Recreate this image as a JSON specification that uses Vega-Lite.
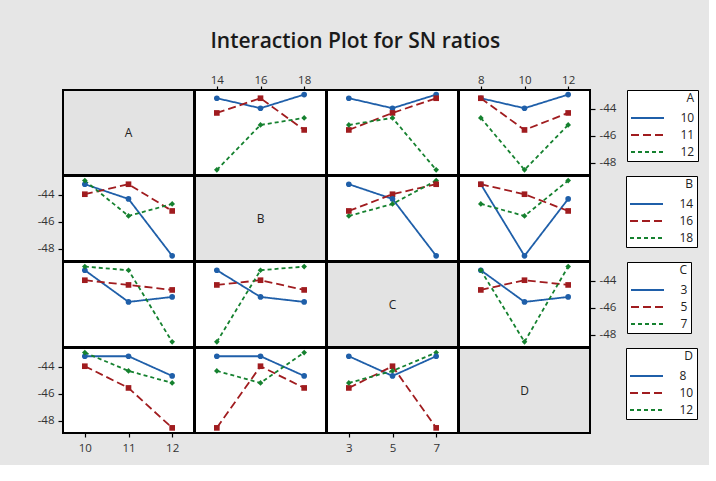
{
  "$schema": "https://vega.github.io/schema/vega-lite/v6.json",
  "background": "#e6e6e6",
  "padding": {"left": 36, "top": 31, "right": 10, "bottom": 10},
  "title": {
    "text": "Interaction Plot for SN ratios",
    "font": "Open Sans",
    "fontSize": 21,
    "fontWeight": 600,
    "color": "#1a1a1a",
    "anchor": "middle",
    "dx": -12,
    "offset": 21
  },
  "datasets": {
    "runs": [
      {"A": 10, "B": 14, "C": 3, "D": 8, "SN": -43.21},
      {"A": 10, "B": 16, "C": 5, "D": 10, "SN": -43.95},
      {"A": 10, "B": 18, "C": 7, "D": 12, "SN": -42.94},
      {"A": 11, "B": 14, "C": 5, "D": 12, "SN": -44.3},
      {"A": 11, "B": 16, "C": 7, "D": 8, "SN": -43.21},
      {"A": 11, "B": 18, "C": 3, "D": 10, "SN": -45.56},
      {"A": 12, "B": 14, "C": 7, "D": 10, "SN": -48.52},
      {"A": 12, "B": 16, "C": 3, "D": 12, "SN": -45.19},
      {"A": 12, "B": 18, "C": 5, "D": 8, "SN": -44.67}
    ]
  },
  "spacing": -2,
  "resolve": {
    "scale": {"x": "independent", "y": "independent", "color": "independent", "fill": "independent", "shape": "independent", "strokeDash": "independent"}
  },
  "vconcat": [
    {
      "spacing": -2,
      "resolve": {"scale": {"x": "independent", "y": "independent", "color": "shared", "fill": "shared", "shape": "shared", "strokeDash": "shared"}},
      "hconcat": [
        {
          "width": 131, "height": 85,
          "data": {"values": [{"t": "A"}]},
          "layer": [
            {"mark": {"type": "rect", "fill": "#e3e3e3", "stroke": "black", "strokeWidth": 2}, "encoding": {}},
            {"mark": {"type": "text", "font": "Open Sans", "fontSize": 12, "color": "#222"}, "encoding": {"text": {"field": "t"}}}
          ]
        },
        {
          "width": 131, "height": 85,
          "data": {"name": "runs"},
          "encoding": {
            "x": {"field": "B", "type": "quantitative", "scale": {"domain": [13, 19], "nice": false, "zero": false}, "axis": {"orient": "top", "values": [14, 16, 18], "title": null}},
            "y": {"field": "SN", "type": "quantitative", "scale": {"domain": [-48.9, -42.6], "nice": false, "zero": false}, "axis": null}
          },
          "layer": [
            {"mark": {"type": "line", "strokeWidth": 1.8}, "encoding": {
              "color": {"field": "A", "type": "nominal", "scale": {"domain": [10, 11, 12], "range": ["#1f5fa9", "#a01c1f", "#15812f"]}, "legend": {"title": "A", "offset": 10, "symbolType": "M-3.3,0L3.3,0"}},
              "strokeDash": {"field": "A", "type": "nominal", "scale": {"domain": [10, 11, 12], "range": [[1, 0], [8, 4], [4, 3]]}, "legend": {"title": "A", "offset": 10, "symbolType": "M-3.3,0L3.3,0"}}}},
            {"mark": {"type": "point", "filled": true, "size": 32, "opacity": 1}, "encoding": {
              "fill": {"field": "A", "type": "nominal", "scale": {"domain": [12, 11, 10], "range": ["#15812f", "#a01c1f", "#1f5fa9"]}, "legend": null},
              "shape": {"field": "A", "type": "nominal", "scale": {"domain": [12, 11, 10], "range": ["diamond", "square", "circle"]}, "legend": null}}}
          ]
        },
        {
          "width": 131, "height": 85,
          "data": {"name": "runs"},
          "encoding": {
            "x": {"field": "C", "type": "quantitative", "scale": {"domain": [2, 8], "nice": false, "zero": false}, "axis": null},
            "y": {"field": "SN", "type": "quantitative", "scale": {"domain": [-48.9, -42.6], "nice": false, "zero": false}, "axis": null}
          },
          "layer": [
            {"mark": {"type": "line", "strokeWidth": 1.8}, "encoding": {
              "color": {"field": "A", "type": "nominal", "scale": {"domain": [10, 11, 12], "range": ["#1f5fa9", "#a01c1f", "#15812f"]}, "legend": {"title": "A", "offset": 10, "symbolType": "M-3.3,0L3.3,0"}},
              "strokeDash": {"field": "A", "type": "nominal", "scale": {"domain": [10, 11, 12], "range": [[1, 0], [8, 4], [4, 3]]}, "legend": {"title": "A", "offset": 10, "symbolType": "M-3.3,0L3.3,0"}}}},
            {"mark": {"type": "point", "filled": true, "size": 32, "opacity": 1}, "encoding": {
              "fill": {"field": "A", "type": "nominal", "scale": {"domain": [12, 11, 10], "range": ["#15812f", "#a01c1f", "#1f5fa9"]}, "legend": null},
              "shape": {"field": "A", "type": "nominal", "scale": {"domain": [12, 11, 10], "range": ["diamond", "square", "circle"]}, "legend": null}}}
          ]
        },
        {
          "width": 131, "height": 85,
          "data": {"name": "runs"},
          "encoding": {
            "x": {"field": "D", "type": "quantitative", "scale": {"domain": [7, 13], "nice": false, "zero": false}, "axis": {"orient": "top", "values": [8, 10, 12], "title": null}},
            "y": {"field": "SN", "type": "quantitative", "scale": {"domain": [-48.9, -42.6], "nice": false, "zero": false}, "axis": {"orient": "right", "values": [-44, -46, -48], "title": null, "labelExpr": "'-' + abs(datum.value)"}}
          },
          "layer": [
            {"mark": {"type": "line", "strokeWidth": 1.8}, "encoding": {
              "color": {"field": "A", "type": "nominal", "scale": {"domain": [10, 11, 12], "range": ["#1f5fa9", "#a01c1f", "#15812f"]}, "legend": {"title": "A", "offset": 10, "symbolType": "M-3.3,0L3.3,0"}},
              "strokeDash": {"field": "A", "type": "nominal", "scale": {"domain": [10, 11, 12], "range": [[1, 0], [8, 4], [4, 3]]}, "legend": {"title": "A", "offset": 10, "symbolType": "M-3.3,0L3.3,0"}}}},
            {"mark": {"type": "point", "filled": true, "size": 32, "opacity": 1}, "encoding": {
              "fill": {"field": "A", "type": "nominal", "scale": {"domain": [12, 11, 10], "range": ["#15812f", "#a01c1f", "#1f5fa9"]}, "legend": null},
              "shape": {"field": "A", "type": "nominal", "scale": {"domain": [12, 11, 10], "range": ["diamond", "square", "circle"]}, "legend": null}}}
          ]
        }
      ]
    },
    {
      "spacing": -2,
      "resolve": {"scale": {"x": "independent", "y": "independent", "color": "shared", "fill": "shared", "shape": "shared", "strokeDash": "shared"}},
      "hconcat": [
        {
          "width": 131, "height": 85,
          "data": {"name": "runs"},
          "encoding": {
            "x": {"field": "A", "type": "quantitative", "scale": {"domain": [9.5, 12.5], "nice": false, "zero": false}, "axis": null},
            "y": {"field": "SN", "type": "quantitative", "scale": {"domain": [-48.9, -42.6], "nice": false, "zero": false}, "axis": {"orient": "left", "values": [-44, -46, -48], "title": null, "labelExpr": "'-' + abs(datum.value)"}}
          },
          "layer": [
            {"mark": {"type": "line", "strokeWidth": 1.8}, "encoding": {
              "color": {"field": "B", "type": "nominal", "scale": {"domain": [14, 16, 18], "range": ["#1f5fa9", "#a01c1f", "#15812f"]}, "legend": {"title": "B", "offset": 35, "symbolType": "M-3.3,0L3.3,0"}},
              "strokeDash": {"field": "B", "type": "nominal", "scale": {"domain": [14, 16, 18], "range": [[1, 0], [8, 4], [4, 3]]}, "legend": {"title": "B", "offset": 35, "symbolType": "M-3.3,0L3.3,0"}}}},
            {"mark": {"type": "point", "filled": true, "size": 32, "opacity": 1}, "encoding": {
              "fill": {"field": "B", "type": "nominal", "scale": {"domain": [18, 16, 14], "range": ["#15812f", "#a01c1f", "#1f5fa9"]}, "legend": null},
              "shape": {"field": "B", "type": "nominal", "scale": {"domain": [18, 16, 14], "range": ["diamond", "square", "circle"]}, "legend": null}}}
          ]
        },
        {
          "width": 131, "height": 85,
          "data": {"values": [{"t": "B"}]},
          "layer": [
            {"mark": {"type": "rect", "fill": "#e3e3e3", "stroke": "black", "strokeWidth": 2}, "encoding": {}},
            {"mark": {"type": "text", "font": "Open Sans", "fontSize": 12, "color": "#222"}, "encoding": {"text": {"field": "t"}}}
          ]
        },
        {
          "width": 131, "height": 85,
          "data": {"name": "runs"},
          "encoding": {
            "x": {"field": "C", "type": "quantitative", "scale": {"domain": [2, 8], "nice": false, "zero": false}, "axis": null},
            "y": {"field": "SN", "type": "quantitative", "scale": {"domain": [-48.9, -42.6], "nice": false, "zero": false}, "axis": null}
          },
          "layer": [
            {"mark": {"type": "line", "strokeWidth": 1.8}, "encoding": {
              "color": {"field": "B", "type": "nominal", "scale": {"domain": [14, 16, 18], "range": ["#1f5fa9", "#a01c1f", "#15812f"]}, "legend": {"title": "B", "offset": 35, "symbolType": "M-3.3,0L3.3,0"}},
              "strokeDash": {"field": "B", "type": "nominal", "scale": {"domain": [14, 16, 18], "range": [[1, 0], [8, 4], [4, 3]]}, "legend": {"title": "B", "offset": 35, "symbolType": "M-3.3,0L3.3,0"}}}},
            {"mark": {"type": "point", "filled": true, "size": 32, "opacity": 1}, "encoding": {
              "fill": {"field": "B", "type": "nominal", "scale": {"domain": [18, 16, 14], "range": ["#15812f", "#a01c1f", "#1f5fa9"]}, "legend": null},
              "shape": {"field": "B", "type": "nominal", "scale": {"domain": [18, 16, 14], "range": ["diamond", "square", "circle"]}, "legend": null}}}
          ]
        },
        {
          "width": 131, "height": 85,
          "data": {"name": "runs"},
          "encoding": {
            "x": {"field": "D", "type": "quantitative", "scale": {"domain": [7, 13], "nice": false, "zero": false}, "axis": null},
            "y": {"field": "SN", "type": "quantitative", "scale": {"domain": [-48.9, -42.6], "nice": false, "zero": false}, "axis": null}
          },
          "layer": [
            {"mark": {"type": "line", "strokeWidth": 1.8}, "encoding": {
              "color": {"field": "B", "type": "nominal", "scale": {"domain": [14, 16, 18], "range": ["#1f5fa9", "#a01c1f", "#15812f"]}, "legend": {"title": "B", "offset": 35, "symbolType": "M-3.3,0L3.3,0"}},
              "strokeDash": {"field": "B", "type": "nominal", "scale": {"domain": [14, 16, 18], "range": [[1, 0], [8, 4], [4, 3]]}, "legend": {"title": "B", "offset": 35, "symbolType": "M-3.3,0L3.3,0"}}}},
            {"mark": {"type": "point", "filled": true, "size": 32, "opacity": 1}, "encoding": {
              "fill": {"field": "B", "type": "nominal", "scale": {"domain": [18, 16, 14], "range": ["#15812f", "#a01c1f", "#1f5fa9"]}, "legend": null},
              "shape": {"field": "B", "type": "nominal", "scale": {"domain": [18, 16, 14], "range": ["diamond", "square", "circle"]}, "legend": null}}}
          ]
        }
      ]
    },
    {
      "spacing": -2,
      "resolve": {"scale": {"x": "independent", "y": "independent", "color": "shared", "fill": "shared", "shape": "shared", "strokeDash": "shared"}},
      "hconcat": [
        {
          "width": 131, "height": 85,
          "data": {"name": "runs"},
          "encoding": {
            "x": {"field": "A", "type": "quantitative", "scale": {"domain": [9.5, 12.5], "nice": false, "zero": false}, "axis": null},
            "y": {"field": "SN", "type": "quantitative", "scale": {"domain": [-48.9, -42.6], "nice": false, "zero": false}, "axis": null}
          },
          "layer": [
            {"mark": {"type": "line", "strokeWidth": 1.8}, "encoding": {
              "color": {"field": "C", "type": "nominal", "scale": {"domain": [3, 5, 7], "range": ["#1f5fa9", "#a01c1f", "#15812f"]}, "legend": {"title": "C", "offset": 10, "symbolType": "M-3.3,0L3.3,0"}},
              "strokeDash": {"field": "C", "type": "nominal", "scale": {"domain": [3, 5, 7], "range": [[1, 0], [8, 4], [4, 3]]}, "legend": {"title": "C", "offset": 10, "symbolType": "M-3.3,0L3.3,0"}}}},
            {"mark": {"type": "point", "filled": true, "size": 32, "opacity": 1}, "encoding": {
              "fill": {"field": "C", "type": "nominal", "scale": {"domain": [7, 5, 3], "range": ["#15812f", "#a01c1f", "#1f5fa9"]}, "legend": null},
              "shape": {"field": "C", "type": "nominal", "scale": {"domain": [7, 5, 3], "range": ["diamond", "square", "circle"]}, "legend": null}}}
          ]
        },
        {
          "width": 131, "height": 85,
          "data": {"name": "runs"},
          "encoding": {
            "x": {"field": "B", "type": "quantitative", "scale": {"domain": [13, 19], "nice": false, "zero": false}, "axis": null},
            "y": {"field": "SN", "type": "quantitative", "scale": {"domain": [-48.9, -42.6], "nice": false, "zero": false}, "axis": null}
          },
          "layer": [
            {"mark": {"type": "line", "strokeWidth": 1.8}, "encoding": {
              "color": {"field": "C", "type": "nominal", "scale": {"domain": [3, 5, 7], "range": ["#1f5fa9", "#a01c1f", "#15812f"]}, "legend": {"title": "C", "offset": 10, "symbolType": "M-3.3,0L3.3,0"}},
              "strokeDash": {"field": "C", "type": "nominal", "scale": {"domain": [3, 5, 7], "range": [[1, 0], [8, 4], [4, 3]]}, "legend": {"title": "C", "offset": 10, "symbolType": "M-3.3,0L3.3,0"}}}},
            {"mark": {"type": "point", "filled": true, "size": 32, "opacity": 1}, "encoding": {
              "fill": {"field": "C", "type": "nominal", "scale": {"domain": [7, 5, 3], "range": ["#15812f", "#a01c1f", "#1f5fa9"]}, "legend": null},
              "shape": {"field": "C", "type": "nominal", "scale": {"domain": [7, 5, 3], "range": ["diamond", "square", "circle"]}, "legend": null}}}
          ]
        },
        {
          "width": 131, "height": 85,
          "data": {"values": [{"t": "C"}]},
          "layer": [
            {"mark": {"type": "rect", "fill": "#e3e3e3", "stroke": "black", "strokeWidth": 2}, "encoding": {}},
            {"mark": {"type": "text", "font": "Open Sans", "fontSize": 12, "color": "#222"}, "encoding": {"text": {"field": "t"}}}
          ]
        },
        {
          "width": 131, "height": 85,
          "data": {"name": "runs"},
          "encoding": {
            "x": {"field": "D", "type": "quantitative", "scale": {"domain": [7, 13], "nice": false, "zero": false}, "axis": null},
            "y": {"field": "SN", "type": "quantitative", "scale": {"domain": [-48.9, -42.6], "nice": false, "zero": false}, "axis": {"orient": "right", "values": [-44, -46, -48], "title": null, "labelExpr": "'-' + abs(datum.value)"}}
          },
          "layer": [
            {"mark": {"type": "line", "strokeWidth": 1.8}, "encoding": {
              "color": {"field": "C", "type": "nominal", "scale": {"domain": [3, 5, 7], "range": ["#1f5fa9", "#a01c1f", "#15812f"]}, "legend": {"title": "C", "offset": 10, "symbolType": "M-3.3,0L3.3,0"}},
              "strokeDash": {"field": "C", "type": "nominal", "scale": {"domain": [3, 5, 7], "range": [[1, 0], [8, 4], [4, 3]]}, "legend": {"title": "C", "offset": 10, "symbolType": "M-3.3,0L3.3,0"}}}},
            {"mark": {"type": "point", "filled": true, "size": 32, "opacity": 1}, "encoding": {
              "fill": {"field": "C", "type": "nominal", "scale": {"domain": [7, 5, 3], "range": ["#15812f", "#a01c1f", "#1f5fa9"]}, "legend": null},
              "shape": {"field": "C", "type": "nominal", "scale": {"domain": [7, 5, 3], "range": ["diamond", "square", "circle"]}, "legend": null}}}
          ]
        }
      ]
    },
    {
      "spacing": -2,
      "resolve": {"scale": {"x": "independent", "y": "independent", "color": "shared", "fill": "shared", "shape": "shared", "strokeDash": "shared"}},
      "hconcat": [
        {
          "width": 131, "height": 85,
          "data": {"name": "runs"},
          "encoding": {
            "x": {"field": "A", "type": "quantitative", "scale": {"domain": [9.5, 12.5], "nice": false, "zero": false}, "axis": {"orient": "bottom", "values": [10, 11, 12], "title": null, "labelPadding": 5}},
            "y": {"field": "SN", "type": "quantitative", "scale": {"domain": [-48.9, -42.6], "nice": false, "zero": false}, "axis": {"orient": "left", "values": [-44, -46, -48], "title": null, "labelExpr": "'-' + abs(datum.value)"}}
          },
          "layer": [
            {"mark": {"type": "line", "strokeWidth": 1.8}, "encoding": {
              "color": {"field": "D", "type": "nominal", "scale": {"domain": [8, 10, 12], "range": ["#1f5fa9", "#a01c1f", "#15812f"]}, "legend": {"title": "D", "offset": 35, "symbolType": "M-3.3,0L3.3,0"}},
              "strokeDash": {"field": "D", "type": "nominal", "scale": {"domain": [8, 10, 12], "range": [[1, 0], [8, 4], [4, 3]]}, "legend": {"title": "D", "offset": 35, "symbolType": "M-3.3,0L3.3,0"}}}},
            {"mark": {"type": "point", "filled": true, "size": 32, "opacity": 1}, "encoding": {
              "fill": {"field": "D", "type": "nominal", "scale": {"domain": [12, 10, 8], "range": ["#15812f", "#a01c1f", "#1f5fa9"]}, "legend": null},
              "shape": {"field": "D", "type": "nominal", "scale": {"domain": [12, 10, 8], "range": ["diamond", "square", "circle"]}, "legend": null}}}
          ]
        },
        {
          "width": 131, "height": 85,
          "data": {"name": "runs"},
          "encoding": {
            "x": {"field": "B", "type": "quantitative", "scale": {"domain": [13, 19], "nice": false, "zero": false}, "axis": null},
            "y": {"field": "SN", "type": "quantitative", "scale": {"domain": [-48.9, -42.6], "nice": false, "zero": false}, "axis": null}
          },
          "layer": [
            {"mark": {"type": "line", "strokeWidth": 1.8}, "encoding": {
              "color": {"field": "D", "type": "nominal", "scale": {"domain": [8, 10, 12], "range": ["#1f5fa9", "#a01c1f", "#15812f"]}, "legend": {"title": "D", "offset": 35, "symbolType": "M-3.3,0L3.3,0"}},
              "strokeDash": {"field": "D", "type": "nominal", "scale": {"domain": [8, 10, 12], "range": [[1, 0], [8, 4], [4, 3]]}, "legend": {"title": "D", "offset": 35, "symbolType": "M-3.3,0L3.3,0"}}}},
            {"mark": {"type": "point", "filled": true, "size": 32, "opacity": 1}, "encoding": {
              "fill": {"field": "D", "type": "nominal", "scale": {"domain": [12, 10, 8], "range": ["#15812f", "#a01c1f", "#1f5fa9"]}, "legend": null},
              "shape": {"field": "D", "type": "nominal", "scale": {"domain": [12, 10, 8], "range": ["diamond", "square", "circle"]}, "legend": null}}}
          ]
        },
        {
          "width": 131, "height": 85,
          "data": {"name": "runs"},
          "encoding": {
            "x": {"field": "C", "type": "quantitative", "scale": {"domain": [2, 8], "nice": false, "zero": false}, "axis": {"orient": "bottom", "values": [3, 5, 7], "title": null, "labelPadding": 5}},
            "y": {"field": "SN", "type": "quantitative", "scale": {"domain": [-48.9, -42.6], "nice": false, "zero": false}, "axis": null}
          },
          "layer": [
            {"mark": {"type": "line", "strokeWidth": 1.8}, "encoding": {
              "color": {"field": "D", "type": "nominal", "scale": {"domain": [8, 10, 12], "range": ["#1f5fa9", "#a01c1f", "#15812f"]}, "legend": {"title": "D", "offset": 35, "symbolType": "M-3.3,0L3.3,0"}},
              "strokeDash": {"field": "D", "type": "nominal", "scale": {"domain": [8, 10, 12], "range": [[1, 0], [8, 4], [4, 3]]}, "legend": {"title": "D", "offset": 35, "symbolType": "M-3.3,0L3.3,0"}}}},
            {"mark": {"type": "point", "filled": true, "size": 32, "opacity": 1}, "encoding": {
              "fill": {"field": "D", "type": "nominal", "scale": {"domain": [12, 10, 8], "range": ["#15812f", "#a01c1f", "#1f5fa9"]}, "legend": null},
              "shape": {"field": "D", "type": "nominal", "scale": {"domain": [12, 10, 8], "range": ["diamond", "square", "circle"]}, "legend": null}}}
          ]
        },
        {
          "width": 131, "height": 85,
          "data": {"values": [{"t": "D"}]},
          "layer": [
            {"mark": {"type": "rect", "fill": "#e3e3e3", "stroke": "black", "strokeWidth": 2}, "encoding": {}},
            {"mark": {"type": "text", "font": "Open Sans", "fontSize": 12, "color": "#222"}, "encoding": {"text": {"field": "t"}}}
          ]
        }
      ]
    }
  ],
  "config": {
    "view": {"stroke": "black", "strokeWidth": 2, "fill": "white"},
    "axis": {
      "domain": false,
      "grid": false,
      "ticks": true,
      "tickColor": "black",
      "tickWidth": 1.2,
      "labelFont": "Open Sans",
      "labelFontSize": 11.5,
      "labelColor": "#333333"
    },
    "axisX": {"tickSize": 4, "labelPadding": 1},
    "axisY": {"tickSize": 5, "labelPadding": 4},
    "legend": {
      "strokeColor": "black",
      "fillColor": "white",
      "padding": 3,
      "cornerRadius": 0,
      "symbolSize": 100,
      "symbolStrokeWidth": 2,
      "symbolOffset": 11.5,
      "labelOffset": 27,
      "labelAlign": "left",
      "rowPadding": 5,
      "titleAnchor": "end",
      "titlePadding": 7,
      "titleFont": "Open Sans",
      "titleFontSize": 12,
      "titleFontWeight": "normal",
      "titleColor": "#222222",
      "labelFont": "Open Sans",
      "labelFontSize": 12,
      "labelColor": "#222222"
    }
  }
}
